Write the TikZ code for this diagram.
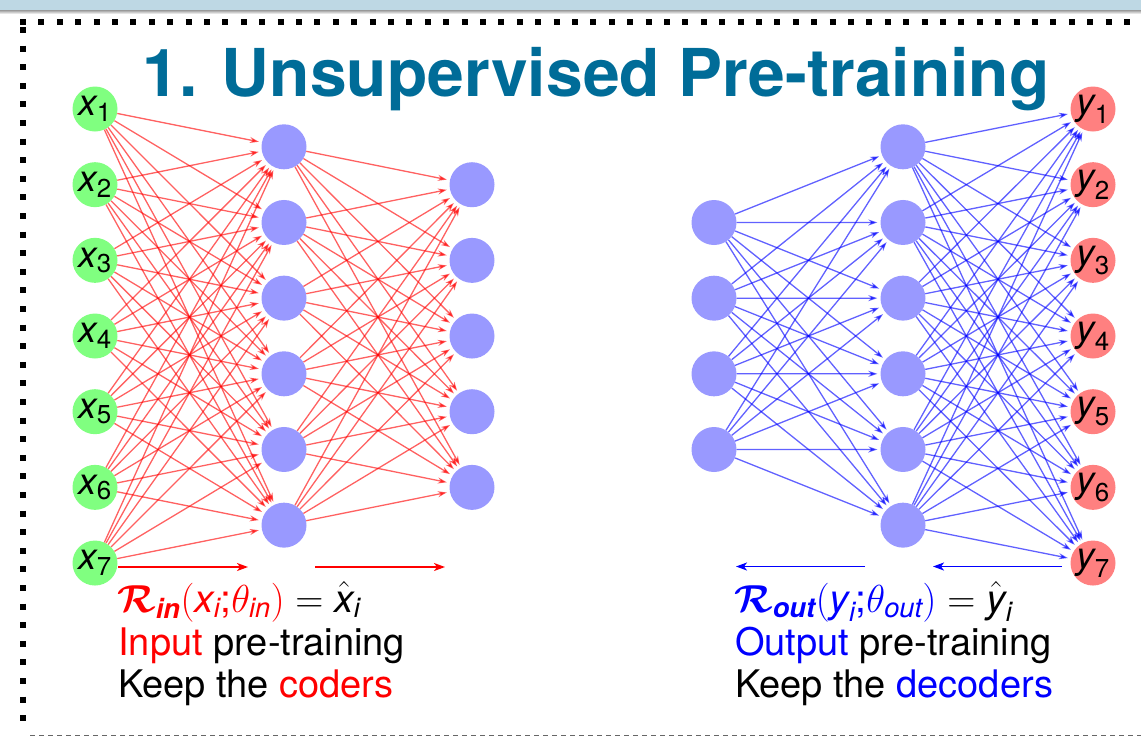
\RequirePackage{fix-cm}
\documentclass[tikz,border=0pt]{standalone}
\usepackage{amsmath}
\usepackage[no-math]{fontspec}
\setmainfont{TeX Gyre Heros}
\usetikzlibrary{arrows.meta}

\definecolor{titleblue}{RGB}{0,108,152}
\definecolor{bandblue}{RGB}{190,216,228}

% italic sans letter with sans subscript
\newcommand\lbl[2]{$\text{\itshape #1}_{\text{#2}}$}
\newcommand\iv[1]{\text{\itshape #1}}
\newcommand\bv[1]{\text{\bfseries\itshape #1}}

\tikzset{
  unit/.style={circle, minimum size=45pt, inner sep=0pt, font=\fontsize{37}{40}\selectfont},
  innode/.style={unit, fill=green!50},
  hidnode/.style={unit, fill=blue!40},
  outnode/.style={unit, fill=red!50},
  redarc/.style={draw=red, opacity=0.62, line width=1.3pt, -{Stealth[length=9pt,width=6pt]}, shorten >=3pt},
  bluearc/.style={draw=blue, opacity=0.62, line width=1.3pt, -{Stealth[length=9pt,width=6pt]}, shorten >=3pt},
  flowarrow/.style={line width=1.6pt, -{Stealth[length=11pt,width=8pt,inset=3pt]}},
  txt/.style={inner sep=0pt, anchor=base west, font=\fontsize{38}{44}\selectfont},
  formula/.style={inner sep=0pt, anchor=base west, text depth=0pt, font=\fontsize{39}{44}\selectfont},
  title/.style={inner sep=0pt, anchor=base, text=titleblue, font=\fontsize{66}{76}\selectfont\bfseries}
}

\begin{document}
\begin{tikzpicture}[x=1pt, y=-1pt]
\useasboundingbox (0,0) rectangle (1141,737);

% window band and frame
\fill[bandblue] (0,0) rectangle (1141,10);
\shade[top color=gray!80, bottom color=white] (0,10) rectangle (1141,14);
\draw[line width=6pt, dash pattern=on 6pt off 12.4pt] (20,21.5) -- (1145,21.5);
\draw[line width=6pt, dash pattern=on 6pt off 12.6pt] (23,27) -- (23,727);
\draw[gray!80!black, line width=1.6pt, dash pattern=on 5pt off 4pt] (30,735.5) -- (1141,735.5);

% title
\node[title] (ttl) at (596,96) {1. Unsupervised Pre-training};

% input pre-training network
\foreach \i in {1,...,7}
  \node[innode] (x\i) at (95,{109+75.67*(\i-1)}) {\lbl{x}{\i}};
\foreach \i in {1,...,6}
  \node[hidnode] (h\i) at (284,{146.8+75.67*(\i-1)}) {};
\foreach \i in {1,...,5}
  \node[hidnode] (g\i) at (472,{184.7+75.67*(\i-1)}) {};
\foreach \i in {1,...,7}
  \foreach \j in {1,...,6}
    \draw[redarc] (x\i) -- (h\j);
\foreach \i in {1,...,6}
  \foreach \j in {1,...,5}
    \draw[redarc] (h\i) -- (g\j);

% output pre-training network
\foreach \i in {1,...,4}
  \node[hidnode] (p\i) at (714,{222.5+75.67*(\i-1)}) {};
\foreach \i in {1,...,6}
  \node[hidnode] (q\i) at (903,{146.8+75.67*(\i-1)}) {};
\foreach \i in {1,...,7}
  \node[outnode] (y\i) at (1093,{109+75.67*(\i-1)}) {\lbl{y}{\i}};
\foreach \i in {1,...,4}
  \foreach \j in {1,...,6}
    \draw[bluearc] (p\i) -- (q\j);
\foreach \i in {1,...,6}
  \foreach \j in {1,...,7}
    \draw[bluearc] (q\i) -- (y\j);

% direction arrows
\coordinate (ra1) at (118,567);
\coordinate (ra2) at (248,567);
\coordinate (ra3) at (315,567);
\coordinate (ra4) at (445,567);
\draw[flowarrow, red] (ra1) -- (ra2);
\draw[flowarrow, red] (ra3) -- (ra4);
\coordinate (ba1) at (865,566.5);
\coordinate (ba2) at (736,566.5);
\coordinate (ba3) at (1062,566.5);
\coordinate (ba4) at (933,566.5);
\draw[flowarrow, blue] (ba1) -- (ba2);
\draw[flowarrow, blue] (ba3) -- (ba4);

% captions
\node[formula] (fin) at (117,612) {${\color{red}\boldsymbol{\mathcal{R}}_{\bv{in}}(\iv{x}_{\iv{i}}\text{;}\theta_{\iv{in}})} = \hat{\iv{x}}_{\iv{i}}$};
\node[txt] (lin) at (118,655) {\textcolor{red}{Input} pre-training};
\node[txt] (kin) at (118,697) {Keep the \textcolor{red}{coders}};

\node[formula] (fout) at (734,612) {${\color{blue}\boldsymbol{\mathcal{R}}_{\bv{out}}(\iv{y}_{\iv{i}}\text{;}\theta_{\iv{out}})} = \hat{\iv{y}}_{\iv{i}}$};
\node[txt] (lout) at (735,655) {\textcolor{blue}{Output} pre-training};
\node[txt] (kout) at (735,697) {Keep the \textcolor{blue}{decoders}};
\end{tikzpicture}
\end{document}
